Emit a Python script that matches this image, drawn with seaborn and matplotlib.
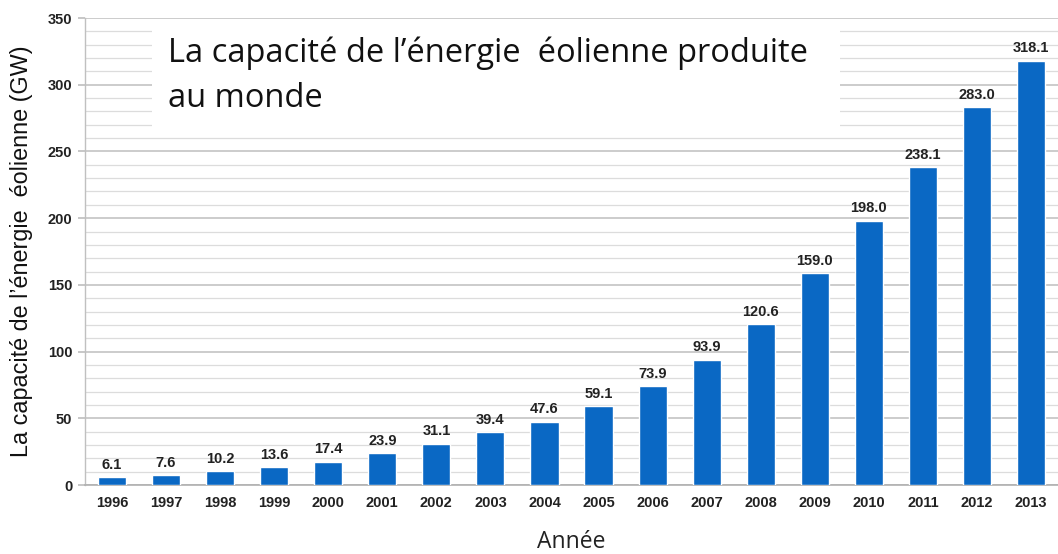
import matplotlib
matplotlib.use("Agg")
import matplotlib.pyplot as plt
import seaborn as sns
import pandas as pd
import numpy as np
from matplotlib.patches import Rectangle
from matplotlib.ticker import MultipleLocator, FixedLocator

years = ["1996", "1997", "1998", "1999", "2000", "2001", "2002", "2003", "2004",
         "2005", "2006", "2007", "2008", "2009", "2010", "2011", "2012", "2013"]
capacity = [6.1, 7.6, 10.2, 13.6, 17.4, 23.9, 31.1, 39.4, 47.6,
            59.1, 73.9, 93.9, 120.6, 159.0, 198.0, 238.1, 283.0, 318.1]
y_ticks = [0, 50, 100, 150, 200, 250, 300, 350]

df = pd.DataFrame({"Année": years, "Capacité": capacity})

sns.set_theme(style="white")
plt.rcParams['font.family'] = ['Liberation Sans', 'DejaVu Sans']

fig = plt.figure(figsize=(10.58, 5.54), dpi=100)
ax = fig.add_axes([0.0803, 0.1245, 0.9197, 0.843])

sns.barplot(data=df, x="Année", y="Capacité", color="#0a68c4", saturation=1,
            width=0.52, ax=ax, zorder=3)

ax.set_ylim(0, 350)
ax.set_xlim(-0.5, len(years) - 0.5)
ax.yaxis.set_major_locator(FixedLocator(y_ticks))
ax.yaxis.set_minor_locator(MultipleLocator(10))
ax.set_axisbelow(True)
ax.grid(which="major", axis="y", color="#c8c8c8", linewidth=1.3)
ax.grid(which="minor", axis="y", color="#dcdcdc", linewidth=0.9)

for s in ["top", "right"]:
    ax.spines[s].set_visible(False)
ax.spines["left"].set_color("#c0c0c0")
ax.spines["bottom"].set_color("#b0b0b0")
ax.spines["left"].set_linewidth(1.0)
ax.spines["bottom"].set_linewidth(1.2)

ax.set_xticks(range(len(years)))
ax.set_xticklabels(years)
ax.xaxis.set_minor_locator(FixedLocator(np.arange(-0.5, len(years), 1.0)))
ax.tick_params(axis="x", which="major", length=0, pad=8, labelsize=10.5,
               labelcolor="#222222")
ax.tick_params(axis="x", which="minor", length=4, color="#b0b0b0", width=1)
ax.tick_params(axis="y", which="major", length=5, color="#c0c0c0", pad=4,
               labelsize=10.5, labelcolor="#222222", left=True)
ax.tick_params(axis="y", which="minor", length=0)
for lab in ax.get_xticklabels() + ax.get_yticklabels():
    lab.set_fontweight("bold")

for i, v in enumerate(capacity):
    ax.text(i, v + 4, f"{v:.1f}", ha="center", va="bottom", fontsize=10.5,
            fontweight="bold", color="#222222", zorder=4)

ax.set_xlabel("Année", fontsize=16.5, family=["Open Sans", "DejaVu Sans"],
              color="#222222", labelpad=14)
ax.set_ylabel("La capacité de l’énergie  éolienne (GW)", fontsize=16.8,
              color="#111111")
ax.yaxis.set_label_coords(-0.0534, 0.5)

fig.patches.append(Rectangle((152 / 1058, 1 - 137 / 554), (840 - 152) / 1058,
                             (137 - 22) / 554, transform=fig.transFigure,
                             facecolor="white", edgecolor="none", zorder=2))
fig.text(168 / 1058, 1 - 37 / 554,
         "La capacité de l’énergie  éolienne produite\nau monde",
         ha="left", va="top", fontsize=23.5, linespacing=1.45,
         family=["Open Sans", "DejaVu Sans"], color="#111111", zorder=3)

fig.savefig("out.png", dpi=100)
